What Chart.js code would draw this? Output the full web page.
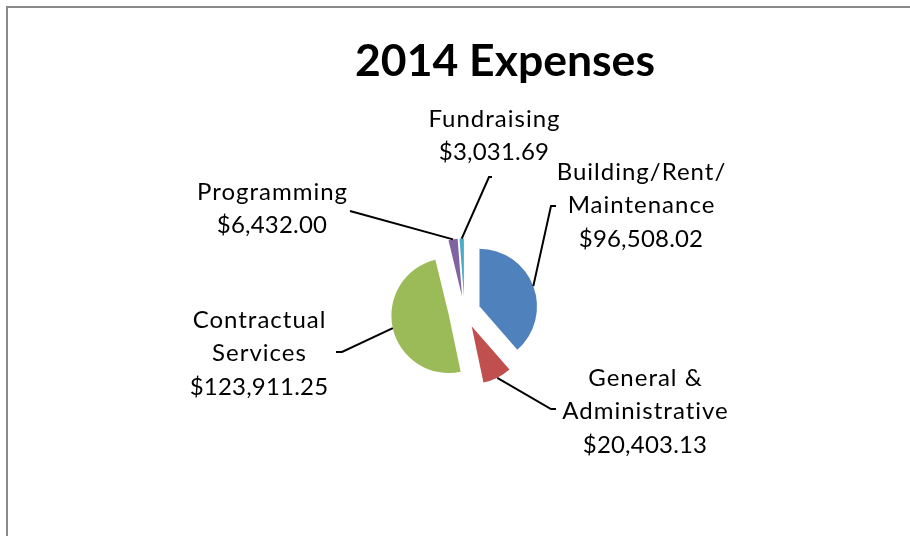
<!DOCTYPE html>
<html>
<head>
<meta charset="utf-8">
<title>2014 Expenses</title>
<script src="https://cdn.jsdelivr.net/npm/chart.js@4.4.1/dist/chart.umd.min.js"></script>
<style>
  html, body { margin: 0; padding: 0; background: #fff; overflow: hidden; }
  #wrap { position: relative; width: 910px; height: 536px; }
  #frame { position: absolute; left: 6px; top: 6px; width: 960px; height: 600px; border: 2px solid #8a8a8a; box-sizing: border-box; }
  #pie { position: absolute; left: 0; top: 0; }
</style>
</head>
<body>
<div id="wrap">
  <div id="frame"></div>
  <canvas id="pie" width="910" height="536"></canvas>
</div>
<script>
/* ---- data ---- */
const TITLE = '2014 Expenses';
const CATEGORIES = [
  ['Building/Rent/', 'Maintenance'],
  ['General &', 'Administrative'],
  ['Contractual', 'Services'],
  ['Programming'],
  ['Fundraising'],
];
const AMOUNTS = [96508.02, 20403.13, 123911.25, 6432.00, 3031.69];

/* ---- look ---- */
const COLORS = ['#4F81BD', '#C0504D', '#9BBB59', '#8064A2', '#4BACC6'];
const EXPLODE = 16;          // px each slice is pulled out
const FONT = "'Lato', 'Noto Sans', sans-serif";
const LABEL_SIZE = 24;
const LINE_H = 33.5;
// label block: centre x, first line centre y, leader end x/y, stub dx
const LABEL_LAYOUT = [
  { x: 641, y: 172, ex: 551, ey: 206, stub: 5 },
  { x: 645, y: 378, ex: 551, ey: 409, stub: 5 },
  { x: 259, y: 320, ex: 342, ey: 352, stub: -6 },
  { x: 272, y: 192, ex: 350, ey: 211, stub: 0 },
  { x: 494, y: 119, ex: 489, ey: 177, stub: 3 },
];

const money = new Intl.NumberFormat('en-US', { minimumFractionDigits: 2, maximumFractionDigits: 2 });

/* pull each arc out along its mid angle, drawing Chart.js's own arc elements */
const explodePlugin = {
  id: 'explode',
  beforeDatasetDraw(chart, args) {
    const ctx = chart.ctx;
    args.meta.data.forEach((arc) => {
      const mid = (arc.startAngle + arc.endAngle) / 2;
      ctx.save();
      ctx.translate(Math.cos(mid) * EXPLODE, Math.sin(mid) * EXPLODE);
      arc.draw(ctx);
      ctx.restore();
    });
    return false;
  },
};

/* title, data labels and leader lines */
const labelPlugin = {
  id: 'labels',
  afterDraw(chart) {
    const ctx = chart.ctx;
    ctx.save();
    ctx.fillStyle = '#000';
    ctx.textAlign = 'center';
    ctx.textBaseline = 'middle';
    ctx.font = `bold 44.5px ${FONT}`;
    ctx.fillText(TITLE, 505, 62);

    const meta = chart.getDatasetMeta(0);
    ctx.strokeStyle = '#000';
    ctx.lineWidth = 2;
    meta.data.forEach((arc, i) => {
      const mid = (arc.startAngle + arc.endAngle) / 2;
      const r = arc.outerRadius + EXPLODE;
      const sx = arc.x + Math.cos(mid) * r;
      const sy = arc.y + Math.sin(mid) * r;
      const L = LABEL_LAYOUT[i];
      ctx.beginPath();
      ctx.moveTo(sx, sy);
      ctx.lineTo(L.ex, L.ey);
      if (L.stub) ctx.lineTo(L.ex + L.stub, L.ey);
      ctx.stroke();

      ctx.font = `${LABEL_SIZE}px ${FONT}`;
      const lines = CATEGORIES[i];
      ctx.letterSpacing = '1px';
      lines.forEach((t, k) => ctx.fillText(t, L.x + 0.5, L.y + k * LINE_H));
      ctx.letterSpacing = '0.2px';
      ctx.fillText('$' + money.format(AMOUNTS[i]), L.x, L.y + lines.length * LINE_H);
      ctx.letterSpacing = '0px';
    });
    ctx.restore();
  },
};

new Chart(document.getElementById('pie'), {
  type: 'pie',
  data: {
    labels: CATEGORIES,
    datasets: [{
      data: AMOUNTS,
      backgroundColor: COLORS,
      borderWidth: 0,
    }],
  },
  options: {
    responsive: false,
    animation: false,
    radius: 57.5,
    layout: { padding: { left: 40, right: 21, top: 120, bottom: 32 } },
    plugins: {
      legend: { display: false },
      title: { display: false },
      tooltip: { enabled: false },
    },
  },
  plugins: [explodePlugin, labelPlugin],
});
</script>
</body>
</html>
